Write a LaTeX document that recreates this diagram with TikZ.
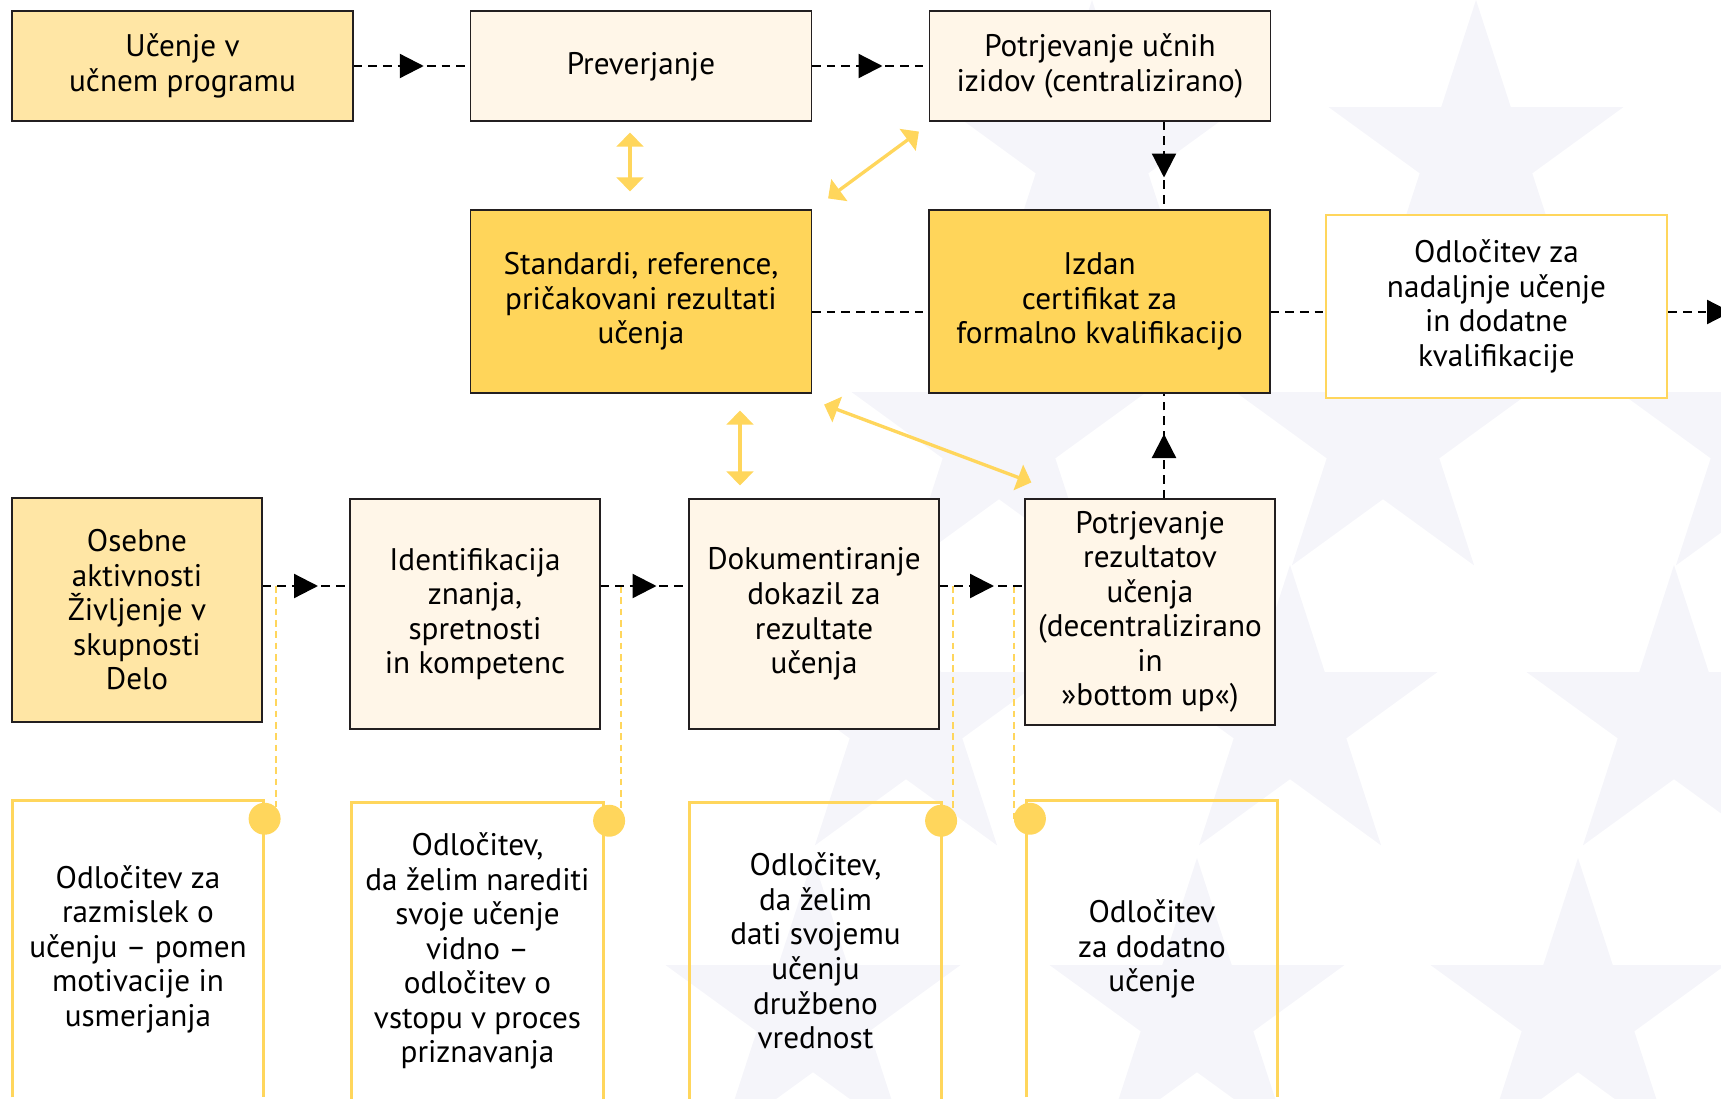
\documentclass[tikz,border=0pt]{standalone}
\usepackage{fontspec}
\setmainfont{PT Sans}
\usetikzlibrary{arrows.meta,calc,decorations.markings,shapes.geometric}

\definecolor{paleyel}{RGB}{255,230,165}
\definecolor{creamfill}{RGB}{255,246,232}
\definecolor{goldfill}{RGB}{255,213,90}
\definecolor{lineyel}{RGB}{255,214,92}
\definecolor{starcol}{RGB}{245,245,250}
\definecolor{boxline}{RGB}{35,31,32}

\tikzset{
  txt/.style={font=\fontsize{23.4}{25.9}\selectfont, align=center, inner sep=0pt},
  topbox/.style={txt, draw=boxline, line width=0.9pt, minimum width=255.75pt, minimum height=82.5pt},
  midbox/.style={txt, draw=boxline, line width=0.9pt, minimum width=255.75pt, minimum height=137.25pt},
  lowbox/.style={txt, draw=boxline, line width=0.9pt, fill=creamfill, minimum width=187.5pt, minimum height=172.5pt},
  decbox/.style={txt, minimum width=188pt, minimum height=222pt},
  decline/.style={lineyel, line width=2.2pt},
  eustar/.style={star, star points=5, star point ratio=2.618, minimum size=232.5pt, inner sep=0pt, fill=starcol},
  flow/.style={black, line width=1.7pt, dash pattern=on 6.5pt off 4.5pt, postaction={decorate},
    decoration={markings, mark=at position 0.5 with {\arrow[xshift=9pt]{Triangle[length=18pt,width=18pt]}}}},
  plainflow/.style={black, line width=1.7pt, dash pattern=on 6.5pt off 4.5pt},
  exitflow/.style={plainflow, -{Triangle[length=18pt,width=18pt]}},
  link/.style={lineyel, line width=2.5pt, {Triangle[length=10.5pt,width=20pt]}-{Triangle[length=10.5pt,width=20pt]}},
  tether/.style={lineyel, line width=1.5pt, dash pattern=on 5pt off 3.5pt},
  dot/.style={circle, fill=lineyel, inner sep=0pt, minimum size=24pt}
}

\begin{document}
\begin{tikzpicture}[x=0.75pt,y=0.75pt,yscale=-1,xscale=1]
\clip (0,0) rectangle (1721,1099);

% background stars
\node[eustar] (s1) at (1092,155) {};
\node[eustar] (s2) at (1476,155) {};
\node[eustar] (s3) at (999,440) {};
\node[eustar] (s4) at (1383,440) {};
\node[eustar] (s5) at (1767,440) {};
\node[eustar] (s6) at (906,720) {};
\node[eustar] (s7) at (1290,720) {};
\node[eustar] (s8) at (1674,720) {};
\node[eustar] (s9) at (813,1013) {};
\node[eustar] (s10) at (1197,1013) {};
\node[eustar] (s11) at (1578,1013) {};

% lanes for the dashed connectors
\coordinate (lane) at (0,586);
\coordinate (midlane) at (0,312);
\coordinate (vx) at (1164,0);
\coordinate (exit) at (1731,312);

% top row
\node[topbox, fill=paleyel] (ucen) at (182.5,66) {Učenje v\\učnem programu};
\node[topbox, fill=creamfill, text depth=4pt] (prev) at (641,66) {Preverjanje};
\node[topbox, fill=creamfill] (potc) at (1100,66) {Potrjevanje učnih\\izidov (centralizirano)};

% middle row
\node[midbox, fill=goldfill] (std) at (641,301.5) {Standardi, reference,\\pričakovani rezultati\\učenja};
\node[midbox, fill=goldfill] (izd) at (1099.5,301.5) {Izdan\\certifikat za\\formalno kvalifikacijo};
\node[midbox, draw=lineyel, line width=2.2pt, fill=white] (nad) at (1496.5,306.5) {Odločitev za\\nadaljnje učenje\\in dodatne\\kvalifikacije};

% lower row
\node[lowbox, fill=paleyel, minimum height=168pt] (oseb) at (137,610) {Osebne\\aktivnosti\\Življenje v\\skupnosti\\Delo};
\node[lowbox] (iden) at (475,614) {Identifikacija\\znanja,\\spretnosti\\in kompetenc};
\node[lowbox] (dok) at (814,614) {Dokumentiranje\\dokazil za\\rezultate\\učenja};
\node[lowbox, minimum height=169.5pt] (potr) at (1150,612) {Potrjevanje\\rezultatov\\učenja\\(decentralizirano\\in\\ »bottom up«)};

% decisions (open at the bottom)
\node[decbox] (dec1) at (138,949) {Odločitev za\\razmislek o\\učenju – pomen\\motivacije in\\usmerjanja};
\node[decbox] (dec2) at (477.5,951) {Odločitev,\\da želim narediti\\svoje učenje\\vidno –\\odločitev o\\vstopu v proces\\priznavanja};
\node[decbox] (dec3) at (815.5,951) {Odločitev,\\da želim\\dati svojemu\\učenju\\družbeno\\vrednost};
\node[decbox] (dec4) at (1152,949) {Odločitev\\za dodatno\\učenje};
\foreach \d in {dec1,dec2,dec3,dec4}
  \draw[decline] (\d.south west) -- (\d.north west) -- (\d.north east) -- (\d.south east);

\node[dot] (dot1) at ($(dec1.north east)+(1,18)$) {};
\node[dot] (dot2) at ($(dec2.north east)+(6,18)$) {};
\node[dot] (dot3) at ($(dec3.north east)+(0,18)$) {};
\node[dot] (dot4) at ($(dec4.north west)+(3.5,18)$) {};

% yellow dashed tethers
\draw[tether] (dot1.north east |- lane) -- (dot1.north east);
\draw[tether] (dot2.north east |- lane) -- (dot2.north east);
\draw[tether] (dot3.north east |- lane) -- (dot3.north east);
\draw[tether] (dot4.west |- lane) -- (dot4.west);

% black dashed flow
\draw[flow] (ucen.east) -- (prev.west);
\draw[flow] (prev.east) -- (potc.west);
\draw[flow] (potc.south -| vx) -- (izd.north -| vx);
\draw[flow] (potr.north -| vx) -- (izd.south -| vx);
\draw[flow] (oseb.east |- lane) -- (iden.west |- lane);
\draw[flow] (iden.east |- lane) -- (dok.west |- lane);
\draw[flow] (dok.east |- lane) -- (potr.west |- lane);
\draw[plainflow] (std.east |- midlane) -- (izd.west |- midlane);
\draw[plainflow] (izd.east |- midlane) -- (nad.west |- midlane);
\draw[exitflow] (nad.east |- midlane) -- (exit);

% yellow two-way links
\draw[link] ($(prev.south)+(-11,11)$) -- ($(std.north)+(-11,-18)$);
\draw[link] ($(std.north east)+(16,-11)$) -- ($(potc.south west)+(-10,10)$);
\draw[link] ($(std.south)+(99,17)$) -- ($(dok.north)+(-74,-13)$);
\draw[link] ($(std.south east)+(12,11)$) -- ($(potr.north west)+(7,-16)$);

\end{tikzpicture}
\end{document}
